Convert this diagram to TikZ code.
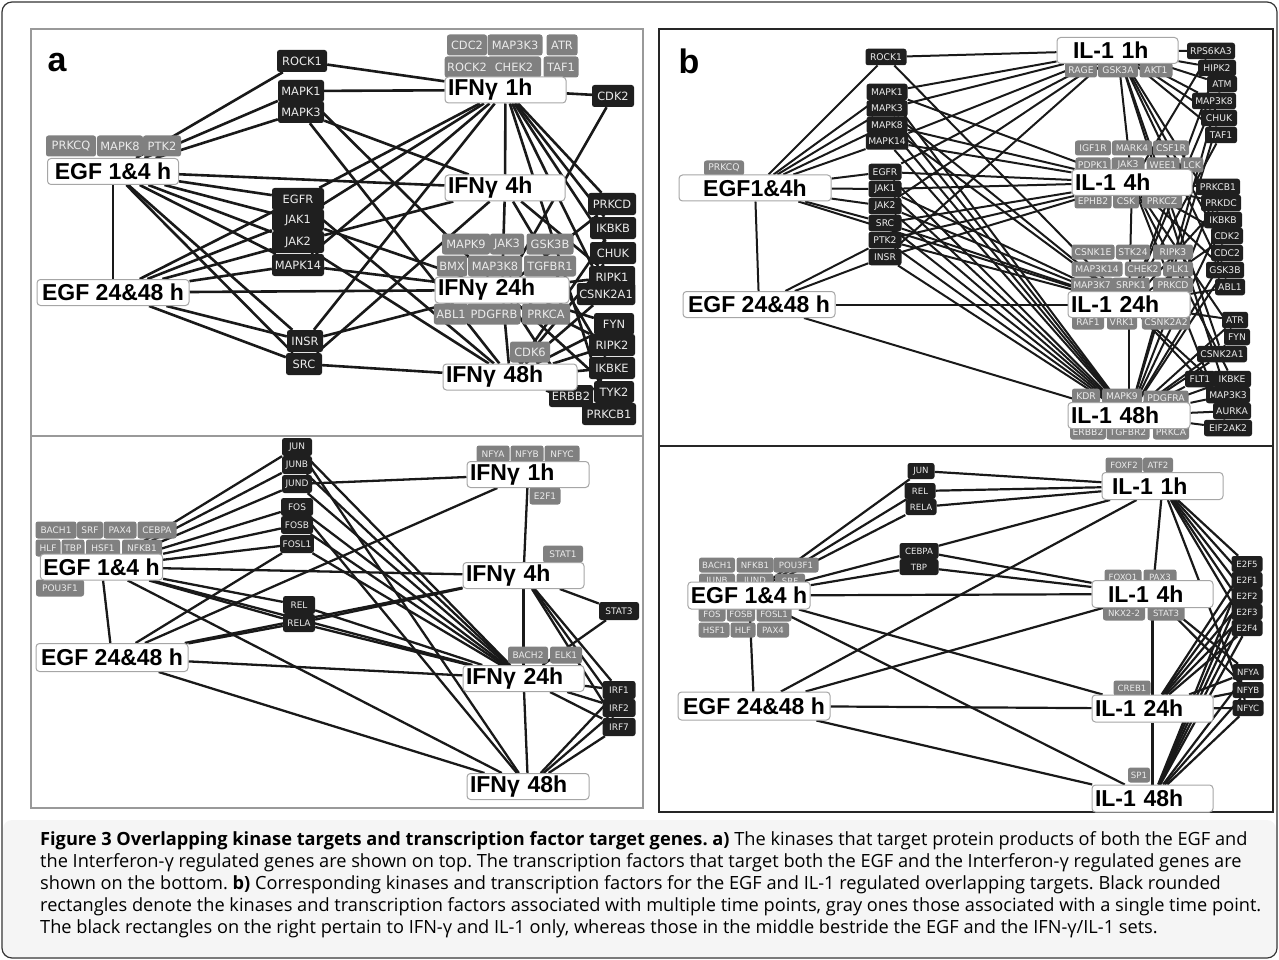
\documentclass[tikz,border=0pt]{standalone}
\usepackage{fontspec}
\usetikzlibrary{backgrounds}
\newfontfamily\genefont{DejaVu Sans}
\newfontfamily\tpfont{Liberation Sans}
\newfontfamily\capfont{Open Sans}
\tikzset{
  sz/.style={font=\genefont\fontsize{11.4}{11.4}\selectfont, minimum height=22pt},
  kin/.style={sz, fill=black!88, text=white!92!black, rounded corners=2.5pt, inner xsep=2.5pt, inner ysep=0pt},
  one/.style={kin, fill=black!50},
  tp/.style={draw=gray!70, line width=1pt, fill=white, rounded corners=3.5pt, inner xsep=3pt, inner ysep=0pt,
    minimum height=26pt, font=\tpfont\bfseries\fontsize{23}{23}\selectfont, align=left},
  edge/.style={line width=2.4pt, black!90},
  frameA/.style={draw=gray!80, line width=1.3pt},
  frameB/.style={draw=black!85, line width=2pt}
}

\begin{document}
\begin{tikzpicture}[x=1pt, y=-1pt]
    \useasboundingbox (0,0) rectangle (1279,960);
    \fill[gray!8, rounded corners=9pt] (3,820) rectangle (1276,957);
    \draw[black!80, line width=1.2pt, rounded corners=10pt] (2,2) rectangle (1277,958);
    \draw[frameA] (31,29) rectangle (643,436);
    \draw[frameA] (31,436) rectangle (643,808);
    \draw[frameB] (659,29) rectangle (1273,446);
    \draw[frameB] (659,446) rectangle (1273,812);

    % a, kinases
    \begin{scope}[edge/.append style={line width=2.6pt}]
        \node[font=\tpfont\bfseries\fontsize{34}{34}\selectfont] (pa) at (57,63) {a};
        \foreach \g/\x/\y/\w in {PRKCQ/71/146/50, MAPK8/120/146/46, PTK2/162/146/38,
                CDC2/467/45/40, MAP3K3/515/45/55, ATR/562/45/31,
                ROCK2/467/67/40, CHEK2/514/67/54, TAF1/561/67/35,
                MAPK9/466/244/48, JAK3/507/244/34, GSK3B/550/244/47,
                BMX/452/266/29, MAP3K8/495/266/54, TGFBR1/550/266/52,
                ABL1/451/314/32, PDGFRB/494/314/53, PRKCA/546/314/48, CDK6/530/352/40}
            \node[one, minimum width=\w, minimum height=21pt] (a\g) at (\x,\y) {\g};
        \foreach \g/\x/\y/\w in {ROCK1/302/61/50, MAPK1/301/91/46, MAPK3/301/112/46,
                EGFR/298/199/52, JAK1/298/220/52, JAK2/298/242/52, MAPK14/298/265/52,
                INSR/305/341/36, SRC/304/364/36, CDK2/613/96/42,
                PRKCD/612/204/48, IKBKB/613/228/46, CHUK/613/253/46, RIPK1/612/277/46,
                CSNK2A1/606/294/58, FYN/614/324/40, RIPK2/612/345/46, IKBKE/612/368/46,
                TYK2/614/392/40, ERBB2/571/396/44, PRKCB1/609/414/54}
            \node[kin, minimum width=\w] (a\g) at (\x,\y) {\g};
        \node[tp, minimum width=131pt] (aE1) at (113,171.5) {EGF 1\&4 h};
        \node[tp, minimum width=152pt] (aE2) at (113,292.5) {EGF 24\&48 h};
        \node[tp, text width=115pt] (aI1) at (505.5,90) {IFNγ 1h};
        \node[tp, text width=114pt] (aI4) at (505,188) {IFNγ 4h};
        \node[tp, text width=128pt] (aI24) at (502,290) {IFNγ 24h};
        \node[tp, text width=128pt] (aI48) at (510,377) {IFNγ 48h};
        \begin{scope}[on background layer]
            \foreach \s/\t in {E1/E2, I1/I4, I4/I24, I24/I48, E1/I4, E2/I24,
                    ROCK1/E1, ROCK1/I1, MAPK1/E1, MAPK1/I1, MAPK1/I24, MAPK3/E1, MAPK3/I4, MAPK3/I48,
                    EGFR/E1, EGFR/E2, EGFR/I1, EGFR/I48, JAK1/E1, JAK1/E2, JAK1/I1, JAK1/I24,
                    JAK2/E1, JAK2/E2, JAK2/I4, JAK2/I48, MAPK14/E1, MAPK14/E2, MAPK14/I1, MAPK14/I24,
                    INSR/E1, INSR/E2, INSR/I1, INSR/I24, SRC/E1, SRC/E2, SRC/I48, SRC/I4,
                    CDK2/I1, CDK2/I24, PRKCD/I1, PRKCD/I24, IKBKB/I1, IKBKB/I48, CHUK/I1, CHUK/I48,
                    RIPK1/I4, RIPK1/I24, CSNK2A1/I1, CSNK2A1/I48, FYN/I24, FYN/I48, RIPK2/I24, RIPK2/I48,
                    IKBKE/I4, IKBKE/I48, TYK2/I24, TYK2/I48, ERBB2/I24, ERBB2/I48, PRKCB1/I1, PRKCB1/I48}
                \draw[edge] (a\s) -- (a\t);
        \end{scope}
    \end{scope}

    % b, kinases
    \begin{scope}[sz/.style={font=\genefont\fontsize{9.2}{9.2}\selectfont, minimum height=16.5pt},
            edge/.append style={line width=2pt}]
        \node[font=\tpfont\bfseries\fontsize{34}{34}\selectfont] (pb) at (689,61) {b};
        \foreach \g/\x/\y/\w in {PRKCQ/724/168/40, RAGE/1081/70/32, GSK3A/1118/70/40, AKT1/1156/70/33,
                IGF1R/1093/148/36, MARK4/1132/148/40, CSF1R/1171/148/36,
                PDPK1/1093/165/35, JAK3/1128/165/33, WEE1/1163/165/33, LCK/1192/165/22,
                EPHB2/1093/201/37, CSK/1126/201/26, PRKCZ/1162/201/40,
                CSNK1E/1093/252/43, STK24/1133/252/34, RIPK3/1173/252/40,
                MAP3K14/1097/269/51, CHEK2/1143/269/33, PLK1/1178/269/30,
                MAP3K7/1092/285/40, SRPK1/1131/285/37, PRKCD/1173/285/40,
                RAF1/1088/322/32, VRK1/1122/322/30, CSNK2A2/1166/322/48,
                KDR/1086/396/28, MAPK9/1122/396/40, PDGFRA/1166/398/45,
                ERBB2/1088/432/31, TGFBR2/1128/432/43, PRKCA/1171/432/36}
            \node[one, minimum width=\w, minimum height=15pt] (b\g) at (\x,\y) {\g};
        \foreach \g/\x/\y/\w in {ROCK1/886/57/41, MAPK1/887/92/41, MAPK3/887/108.5/41, MAPK8/887/125/41,
                MAPK14/887/141.5/41, EGFR/885/172/33, JAK1/885/189/33, JAK2/885/206/33,
                SRC/885/223/33, PTK2/885/240/33, INSR/885/257/33,
                RPS6KA3/1211/51/48, HIPK2/1217/68/38, ATM/1222/84/30, MAP3K8/1214/101/44,
                CHUK/1219/118/36, TAF1/1221/135/32, PRKCB1/1218/187/44, PRKDC/1221/203/40,
                IKBKB/1223/220/38, CDK2/1227/236/32, CDC2/1227/253/32, GSK3B/1225/270/38,
                ABL1/1230/287/30, ATR/1235/320/26, FYN/1237/337/26, CSNK2A1/1222/354/50,
                FLT1/1200/379/30, IKBKE/1232/379/38, MAP3K3/1228/395/44, AURKA/1232/411/38,
                EIF2AK2/1228/428/48}
            \node[kin, minimum width=\w] (b\g) at (\x,\y) {\g};
        \node[tp, minimum width=152pt] (bE1) at (755,188) {EGF1\&4h};
        \node[tp, minimum width=152pt] (bE2) at (759,304.5) {EGF 24\&48 h};
        \node[tp, inner xsep=16pt, text width=89pt] (bI1) at (1117.5,50.5) {IL-1 1h};
        \node[tp, text width=114pt] (bI4) at (1132,182.5) {IL-1 4h};
        \node[tp, text width=116pt] (bI24) at (1129,304.5) {IL-1 24h};
        \node[tp, text width=116pt] (bI48) at (1129,415.5) {IL-1 48h};
        \begin{scope}[on background layer]
            \foreach \s/\t in {E1/E2, I1/I4, I4/I24, I24/I48, E2/I24, E2/I48, E1/I24,
                    ROCK1/E1, ROCK1/I1, ROCK1/I24, MAPK1/E1, MAPK1/I1, MAPK1/I4, MAPK1/I48,
                    MAPK3/E1, MAPK3/I1, MAPK3/I24, MAPK3/I48, MAPK8/E1, MAPK8/I4, MAPK8/I24, MAPK8/I48,
                    MAPK14/E1, MAPK14/I1, MAPK14/I4, MAPK14/I48, EGFR/E1, EGFR/I1, EGFR/I4, EGFR/I48,
                    JAK1/E1, JAK1/I4, JAK1/I24, JAK1/I48, JAK2/E1, JAK2/I1, JAK2/I24, JAK2/I48,
                    SRC/E1, SRC/I4, SRC/I24, SRC/I48, PTK2/E2, PTK2/I4, PTK2/I24, PTK2/I48,
                    INSR/E2, INSR/I1, INSR/I4, INSR/I48,
                    RPS6KA3/I1, RPS6KA3/I4, HIPK2/I1, HIPK2/I24, ATM/I1, ATM/I48, MAP3K8/I1, MAP3K8/I24,
                    CHUK/I1, CHUK/I48, TAF1/I1, TAF1/I24, PRKCB1/I4, PRKCB1/I48, PRKDC/I4, PRKDC/I24,
                    IKBKB/I1, IKBKB/I48, CDK2/I4, CDK2/I24, CDC2/I1, CDC2/I48, GSK3B/I4, GSK3B/I48,
                    ABL1/I1, ABL1/I24, ATR/I24, ATR/I48, FYN/I4, FYN/I48, CSNK2A1/I1, CSNK2A1/I48,
                    FLT1/I24, FLT1/I48, IKBKE/I4, IKBKE/I48, MAP3K3/I24, MAP3K3/I48, AURKA/I48, AURKA/I1,
                    EIF2AK2/I48, EIF2AK2/I4}
                \draw[edge] (b\s) -- (b\t);
        \end{scope}
    \end{scope}

    % a, transcription factors
    \begin{scope}[sz/.style={font=\genefont\fontsize{9}{9}\selectfont, minimum height=18pt},
            edge/.append style={line width=2.3pt}]
        \foreach \g/\x/\y/\w in {BACH1/56/530/41, SRF/90/530/26, PAX4/120/530/33, CEBPA/157/530/39,
                HLF/48/548/25, TBP/73/548/23, HSF1/103/548/34, NFKB1/142/548/40, POU3F1/60/588/48,
                NFYA/493/454/33, NFYB/527/454/33, NFYC/562/454/35, E2F1/545/496/31,
                STAT1/563/554/40, BACH2/528/655/40, ELK1/566/655/32}
            \node[one, minimum width=\w, minimum height=17pt] (c\g) at (\x,\y) {\g};
        \foreach \g/\x/\y/\w in {JUN/297/447/30, JUNB/297/465/30, JUND/297/484/30,
                FOS/297/507/32, FOSB/297/525/32, FOSL1/297/544/32, REL/299/605/32, RELA/299/623/32,
                STAT3/619/611/40, IRF1/619/690/33, IRF2/619/708/33, IRF7/619/727/33}
            \node[kin, minimum width=\w] (c\g) at (\x,\y) {\g};
        \node[tp, minimum width=121pt] (cE1) at (101.5,567) {EGF 1\&4 h};
        \node[tp, minimum width=152pt, minimum height=28pt] (cE2) at (112,657.5) {EGF 24\&48 h};
        \node[tp, text width=116pt] (cI1) at (528,474.5) {IFNγ 1h};
        \node[tp, text width=115pt] (cI4) at (523.5,575.5) {IFNγ 4h};
        \node[tp, text width=115pt] (cI24) at (523.5,678.5) {IFNγ 24h};
        \node[tp, text width=116pt] (cI48) at (528,786.5) {IFNγ 48h};
        \begin{scope}[on background layer]
            \foreach \s/\t in {E1/E2, I1/I4, I4/I24, I24/I48, E1/I4, E1/I24, E1/I48,
                    E2/I24, E2/I48, E2/I1, E2/I4,
                    JUN/E1, JUN/I24, JUN/I48, JUNB/E1, JUNB/I24, JUND/E1, JUND/I24, JUND/I1,
                    FOS/E1, FOS/I24, FOS/I48, FOSB/E1, FOSB/I24, FOSL1/E1, FOSL1/I24, FOSL1/E2,
                    REL/E1, REL/I24, RELA/E1, RELA/E2, RELA/I24, RELA/I4,
                    STAT3/I4, STAT3/I24, IRF1/I4, IRF1/I24, IRF1/I48, IRF2/I4, IRF2/I24, IRF2/I48,
                    IRF7/I4, IRF7/I24, IRF7/I48}
                \draw[edge] (c\s) -- (c\t);
        \end{scope}
    \end{scope}

    % b, transcription factors
    \begin{scope}[sz/.style={font=\genefont\fontsize{8.6}{8.6}\selectfont, minimum height=16pt},
            edge/.append style={line width=2.2pt}]
        \foreach \g/\x/\y/\w in {BACH1/717/565/36, NFKB1/755/565/37, POU3F1/796/565/45,
                JUNB/717/581/36, JUND/755/581/37, SRF/790/581/30,
                FOS/712/614/27, FOSB/741/614/28, FOSL1/774/614/35,
                HSF1/714/630/31, HLF/743/630/25, PAX4/773/630/32,
                FOXF2/1124/465/37, ATF2/1158/465/30, FOXO1/1123/577/37, PAX3/1160/577/33,
                NKX2-2/1124/613/42, STAT3/1166/613/37, CREB1/1132/688/37, SP1/1139/775/22}
            \node[one, minimum width=\w, minimum height=15pt] (d\g) at (\x,\y) {\g};
        \foreach \g/\x/\y/\w in {JUN/921/471/27, REL/920/491/31, RELA/921/507/31,
                CEBPA/919/551/39, TBP/919/567/39,
                E2F5/1247/564/31, E2F1/1247/580/31, E2F2/1247/596/31, E2F3/1247/612/31, E2F4/1247/628/31,
                NFYA/1248/672/31, NFYB/1248/690/31, NFYC/1248/708/31}
            \node[kin, minimum width=\w] (d\g) at (\x,\y) {\g};
        \node[tp, minimum width=122pt, minimum height=27pt] (dE1) at (749,595.5) {EGF 1\&4 h};
        \node[tp, minimum width=152pt, minimum height=28pt] (dE2) at (754,706) {EGF 24\&48 h};
        \node[tp, inner xsep=10pt, text width=101pt, minimum height=27pt] (dI1) at (1162.5,486) {IL-1 1h};
        \node[tp, inner xsep=16pt, text width=89pt, minimum height=27pt] (dI4) at (1152.5,594) {IL-1 4h};
        \node[tp, text width=115pt, minimum height=27pt] (dI24) at (1152.5,708.5) {IL-1 24h};
        \node[tp, text width=115pt, minimum height=27pt] (dI48) at (1152.5,798.5) {IL-1 48h};
        \begin{scope}[on background layer]
            \foreach \s/\t in {E1/E2, I1/I4, I4/I24, I24/I48, E1/I4, E1/I24, E1/I48,
                    E2/I24, E2/I48, E2/I1, E2/I4,
                    JUN/E1, JUN/I1, REL/E1, REL/I1, RELA/E1, RELA/I1,
                    CEBPA/E1, CEBPA/I1, CEBPA/I4, TBP/E1, TBP/I4,
                    E2F5/I1, E2F5/I24, E2F5/I48, E2F1/I1, E2F1/I24, E2F1/I48, E2F2/I1, E2F2/I24, E2F2/I48,
                    E2F3/I1, E2F3/I24, E2F3/I48, E2F4/I1, E2F4/I24, E2F4/I48,
                    NFYA/I4, NFYA/I24, NFYA/I48, NFYB/I4, NFYB/I24, NFYB/I48, NFYC/I1, NFYC/I24, NFYC/I48}
                \draw[edge] (d\s) -- (d\t);
        \end{scope}
    \end{scope}

    \node[anchor=north west, align=left, inner sep=0pt, font=\capfont\fontsize{18.2}{22}\selectfont\frenchspacing] (caption) at (40,831)
        {\textbf{Figure 3 Overlapping kinase targets and transcription factor target genes. a)} The kinases that target protein products of both the EGF and\\
         the Interferon-γ regulated genes are shown on top. The transcription factors that target both the EGF and the Interferon-γ regulated genes are\\
         shown on the bottom. \textbf{b)} Corresponding kinases and transcription factors for the EGF and IL-1 regulated overlapping targets. Black rounded\\
         rectangles denote the kinases and transcription factors associated with multiple time points, gray ones those associated with a single time point.\\
         The black rectangles on the right pertain to IFN-γ and IL-1 only, whereas those in the middle bestride the EGF and the IFN-γ/IL-1 sets.};
\end{tikzpicture}
\end{document}
